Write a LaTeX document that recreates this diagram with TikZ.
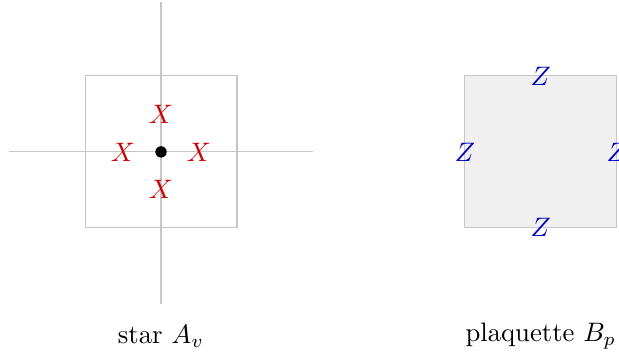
\documentclass[tikz,border=0pt]{standalone}
\usepackage{amsmath,amssymb}
\usepackage{tikz}
\usetikzlibrary{positioning}

\begin{document}
\begin{tikzpicture}[
  x=1cm,y=1cm,
  edge/.style={draw=gray!45,thin},
  cell/.style={draw=gray!45,fill=gray!12,thin},
  xop/.style={text=red!80!black,inner sep=0pt},
  zop/.style={text=blue!75!black,inner sep=0pt},
  vert/.style={circle,fill=black,inner sep=0pt,minimum size=1.5mm},
  caption/.style={font=\normalsize}]
\path[use as bounding box] (-2.12,-2.71) rectangle (6.03,2.0);
% star
\coordinate (v) at (0,0);
\draw[edge] (-1,-1) rectangle (1,1);
\draw[edge] (-2,0) -- (2,0);
\draw[edge] (0,-2) -- (0,1.98);
\node[vert] (site) at (v) {};
\node[xop] (xn) at (0,0.5) {$X$};
\node[xop] (xs) at (0,-0.5) {$X$};
\node[xop] (xw) at (-0.5,0) {$X$};
\node[xop] (xe) at (0.5,0) {$X$};
\node[caption] (capA) at (0,-2.43) {star $A_v$};
% plaquette
\coordinate (p) at (5,0);
\draw[cell] (4,-1) rectangle (6,1);
\node[zop] (zn) at (5,1) {$Z$};
\node[zop] (zs) at (5,-1) {$Z$};
\node[zop] (zw) at (4,0) {$Z$};
\node[zop] (ze) at (6,0) {$Z$};
\node[caption] (capB) at (5,-2.43) {plaquette $B_p$};
\end{tikzpicture}
\end{document}
